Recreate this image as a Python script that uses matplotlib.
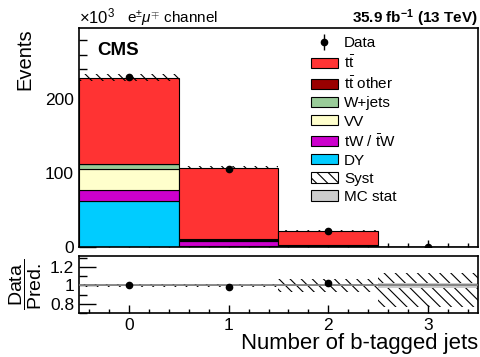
import numpy as np
import matplotlib
matplotlib.use("Agg")
import matplotlib.pyplot as plt
from matplotlib.patches import Patch
from matplotlib.ticker import MultipleLocator

plt.rcParams['font.family'] = ['Liberation Sans', 'DejaVu Sans']
plt.rcParams['mathtext.fontset'] = 'custom'
plt.rcParams['mathtext.rm'] = 'Liberation Sans'
plt.rcParams['mathtext.it'] = 'Liberation Sans:italic'
plt.rcParams['mathtext.bf'] = 'Liberation Sans:bold'
plt.rcParams['hatch.linewidth'] = 0.8

# number of b-tagged jets, events in units of 10^3
nbjets = [0, 1, 2, 3]
dy = [62.5, 1.5, 0.4, 0.01]
tw = [14.5, 7.0, 1.2, 0.02]
vv = [28.0, 0.6, 0.1, 0.01]
wjets = [7.0, 0.2, 0.05, 0.0]
tt_other = [0.8, 1.5, 1.0, 0.05]
tt = [116.0, 96.5, 18.8, 0.15]
data = [230.0, 105.5, 22.1, 0.40]
syst_up = [0.02, 0.02, 0.075, 0.14]
syst_dn = [0.02, 0.02, 0.075, 0.23]
mc_stat = [0.003, 0.004, 0.01, 0.03]

stack = [
    (dy, '#00ccff', 'DY'),
    (tw, '#cc00cc', r'tW / $\bar{\mathrm{t}}$W'),
    (vv, '#ffffcc', 'VV'),
    (wjets, '#99cc99', 'W+jets'),
    (tt_other, '#990000', r't$\bar{\mathrm{t}}$ other'),
    (tt, '#ff3333', r't$\bar{\mathrm{t}}$'),
]

x = np.array(nbjets, dtype=float)
total = np.sum([np.array(s[0]) for s in stack], axis=0)
data = np.array(data)
sup = np.array(syst_up)
sdn = np.array(syst_dn)
mcs = np.array(mc_stat)

fig = plt.figure(figsize=(4.81, 3.57), dpi=100)
ax = fig.add_axes([0.1642, 0.3081, 0.8296, 0.6135])
rax = fig.add_axes([0.1642, 0.1232, 0.8296, 0.1597])

bottom = np.zeros(len(x))
handles = {}
for vals, col, lab in stack:
    ax.bar(x, vals, width=1.0, bottom=bottom, color=col,
           edgecolor='black', linewidth=0.8, zorder=2)
    handles[lab] = Patch(facecolor=col, edgecolor='black', linewidth=0.8)
    bottom = bottom + np.array(vals)

# systematic band on the stack
edges = np.append(x - 0.5, x[-1] + 0.5)
ax.stairs(total * (1 + sup), edges, baseline=total * (1 - sdn), fill=True,
          facecolor='none', edgecolor='black', hatch='\\\\\\', linewidth=0,
          zorder=3)

derr = np.sqrt(data * 1000) / 1000
eb = ax.errorbar(x, data, yerr=derr, fmt='o', color='black', ms=4.5,
                 elinewidth=1, capsize=0, zorder=5)

ax.set_xlim(-0.5, 3.5)
ax.set_ylim(0, 296)
ax.yaxis.set_major_locator(MultipleLocator(100))
ax.yaxis.set_minor_locator(MultipleLocator(20))
ax.xaxis.set_major_locator(MultipleLocator(1))
ax.xaxis.set_minor_locator(MultipleLocator(0.2))
ax.tick_params(axis='both', which='both', direction='in', labelsize=12.5)
ax.tick_params(axis='y', which='major', length=12, width=1)
ax.tick_params(axis='y', which='minor', length=6, width=1)
ax.tick_params(axis='x', which='major', length=5, width=1)
ax.tick_params(axis='x', which='minor', length=3, width=1)
ax.tick_params(axis='x', labelbottom=False)
for s in ax.spines.values():
    s.set_linewidth(1.2)
ax.set_ylabel('Events', fontsize=14.5, loc='top', labelpad=8)

leg_handles = [eb, handles[r't$\bar{\mathrm{t}}$'],
               handles[r't$\bar{\mathrm{t}}$ other'], handles['W+jets'],
               handles['VV'], handles[r'tW / $\bar{\mathrm{t}}$W'],
               handles['DY'],
               Patch(facecolor='white', edgecolor='black', hatch='\\\\\\',
                     linewidth=0.8),
               Patch(facecolor='#cccccc', edgecolor='black', linewidth=0.8)]
leg_labels = ['Data', r't$\bar{\mathrm{t}}$', r't$\bar{\mathrm{t}}$ other',
              'W+jets', 'VV', r'tW / $\bar{\mathrm{t}}$W', 'DY', 'Syst',
              'MC stat']
ax.legend(leg_handles, leg_labels, loc='upper left',
          bbox_to_anchor=(0.565, 0.99), frameon=False, fontsize=11,
          handlelength=1.8, handleheight=0.65, handletextpad=0.4,
          labelspacing=0.27, borderaxespad=0)

fig.text(0.1642, 0.935, r'$\times$10$^3$', fontsize=12, ha='left',
         va='baseline')
fig.text(0.264, 0.935, r'e$^{\pm}\mu^{\mp}$ channel', fontsize=11,
         ha='left', va='baseline')
fig.text(0.994, 0.935, r'35.9 fb$^{\mathbf{-1}}$ (13 TeV)', fontsize=11,
         fontweight='bold', ha='right', va='baseline')
ax.text(0.045, 0.895, 'CMS', transform=ax.transAxes, fontsize=13.5,
        fontweight='bold', ha='left', va='center')

# ratio panel
ratio = data / total
rerr = derr / total
rax.stairs(1 + sup, edges, baseline=1 - sdn, fill=True, facecolor='none',
           edgecolor='black', hatch='\\\\\\', linewidth=0, zorder=1)
rax.stairs(1 + mcs, edges, baseline=1 - mcs, fill=True, facecolor='#cccccc',
           linewidth=0, zorder=2)
rax.axhline(1.0, color='#777777', linewidth=1.2, zorder=3)
rax.errorbar(x, ratio, yerr=rerr, fmt='o', color='black', ms=4.5,
             elinewidth=1, capsize=0, zorder=5)
rax.set_xlim(-0.5, 3.5)
rax.set_ylim(0.7, 1.32)
rax.yaxis.set_minor_locator(MultipleLocator(0.1))
rax.set_yticks([0.8, 1.0, 1.2])
rax.set_yticklabels(['0.8', '1', '1.2'])
rax.xaxis.set_major_locator(MultipleLocator(1))
rax.xaxis.set_minor_locator(MultipleLocator(0.2))
rax.tick_params(axis='both', which='both', direction='in', labelsize=12.5)
rax.tick_params(axis='y', which='major', length=12, width=1)
rax.tick_params(axis='y', which='minor', length=6, width=1)
rax.tick_params(axis='x', which='major', length=6, width=1)
rax.tick_params(axis='x', which='minor', length=3, width=1)
for s in rax.spines.values():
    s.set_linewidth(1.2)
rax.set_xlabel('Number of b-tagged jets', fontsize=15.9, loc='right',
               labelpad=0)
fig.text(0.054, 0.205, r'$\dfrac{\mathrm{Data}}{\mathrm{Pred.}}$',
         fontsize=14, rotation=90, ha='center', va='center')

fig.savefig('out.png', dpi=100)
